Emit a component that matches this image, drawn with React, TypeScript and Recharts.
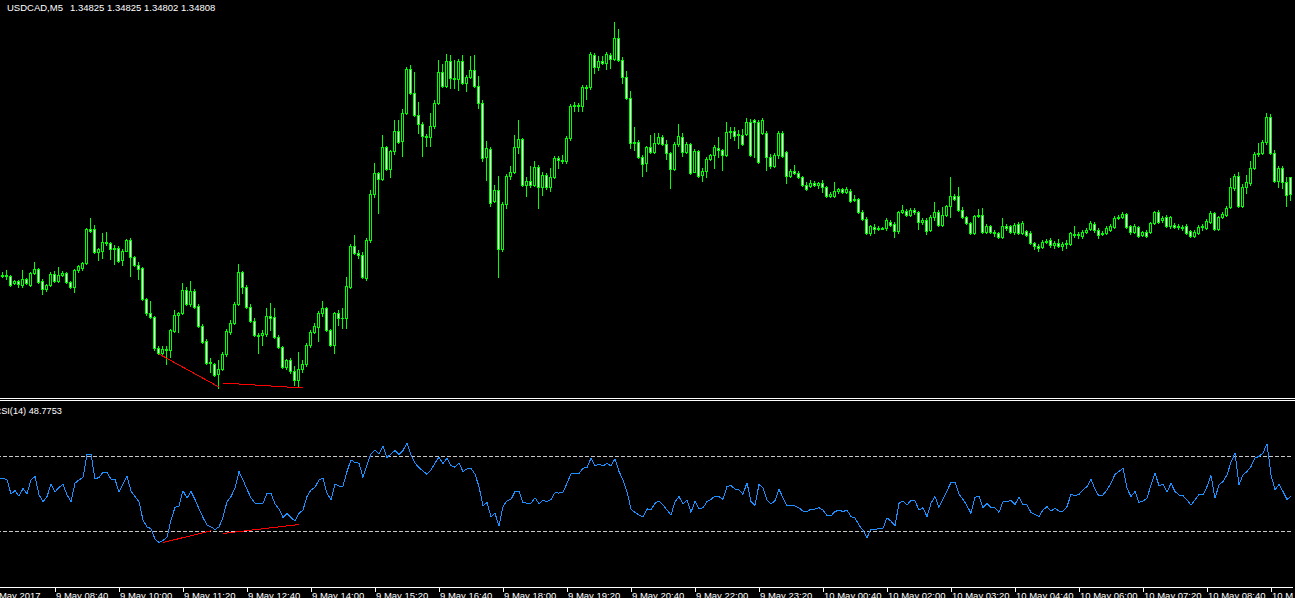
import React from 'react';
import { ComposedChart, Bar, Line, XAxis, YAxis, ReferenceLine } from 'recharts';

const SYMBOL = 'USDCAD,M5';
const FONT = "'Liberation Sans', Arial, sans-serif";

const opens = [1.34728,1.34726,1.34727,1.34726,1.34719,1.34721,1.34717,1.34723,1.34717,1.34729,
1.34733,1.34721,1.34713,1.34717,1.34728,1.34721,1.34727,1.34729,1.34720,1.34715,
1.34732,1.34734,1.34739,1.34773,1.34773,1.34750,1.34751,1.34760,1.34759,1.34753,
1.34754,1.34742,1.34751,1.34762,1.34745,1.34737,1.34734,1.34703,1.34689,1.34685,
1.34654,1.34649,1.34653,1.34652,1.34671,1.34687,1.34689,1.34712,1.34698,1.34711,
1.34696,1.34676,1.34661,1.34639,1.34638,1.34628,1.34633,1.34648,1.34670,1.34679,
1.34698,1.34730,1.34715,1.34695,1.34681,1.34667,1.34667,1.34668,1.34686,1.34685,
1.34665,1.34655,1.34635,1.34642,1.34631,1.34622,1.34633,1.34638,1.34657,1.34670,
1.34675,1.34689,1.34694,1.34672,1.34657,1.34689,1.34684,1.34684,1.34715,1.34756,
1.34749,1.34747,1.34724,1.34762,1.34808,1.34829,1.34823,1.34855,1.34833,1.34851,
1.34871,1.34861,1.34889,1.34933,1.34909,1.34887,1.34878,1.34866,1.34865,1.34876,
1.34899,1.34930,1.34916,1.34941,1.34924,1.34923,1.34941,1.34919,1.34925,1.34932,
1.34916,1.34899,1.34845,1.34853,1.34801,1.34812,1.34753,1.34798,1.34826,1.34830,
1.34855,1.34863,1.34817,1.34821,1.34817,1.34835,1.34815,1.34827,1.34815,1.34825,
1.34844,1.34842,1.34841,1.34864,1.34896,1.34897,1.34896,1.34915,1.34915,1.34947,
1.34935,1.34941,1.34939,1.34947,1.34943,1.34964,1.34942,1.34925,1.34904,1.34859,
1.34860,1.34845,1.34839,1.34855,1.34850,1.34859,1.34865,1.34858,1.34849,1.34833,
1.34858,1.34865,1.34850,1.34858,1.34830,1.34851,1.34827,1.34831,1.34843,1.34847,
1.34854,1.34852,1.34847,1.34870,1.34871,1.34867,1.34867,1.34868,1.34880,1.34882,
1.34880,1.34869,1.34869,1.34845,1.34836,1.34847,1.34869,1.34850,1.34826,1.34831,
1.34829,1.34825,1.34817,1.34816,1.34819,1.34817,1.34819,1.34815,1.34806,1.34806,
1.34811,1.34813,1.34810,1.34811,1.34802,1.34803,1.34790,1.34783,1.34769,1.34775,
1.34773,1.34774,1.34774,1.34780,1.34778,1.34771,1.34790,1.34791,1.34787,1.34792,
1.34790,1.34780,1.34782,1.34772,1.34785,1.34790,1.34777,1.34787,1.34796,1.34806,
1.34806,1.34792,1.34785,1.34779,1.34769,1.34786,1.34787,1.34770,1.34776,1.34770,
1.34769,1.34765,1.34776,1.34776,1.34770,1.34778,1.34769,1.34771,1.34769,1.34759,
1.34756,1.34755,1.34761,1.34762,1.34757,1.34759,1.34756,1.34758,1.34758,1.34768,
1.34767,1.34766,1.34770,1.34773,1.34778,1.34772,1.34768,1.34769,1.34772,1.34775,
1.34784,1.34785,1.34788,1.34776,1.34770,1.34775,1.34767,1.34770,1.34770,1.34779,
1.34790,1.34782,1.34785,1.34776,1.34777,1.34775,1.34775,1.34776,1.34771,1.34766,
1.34769,1.34775,1.34774,1.34780,1.34789,1.34773,1.34785,1.34787,1.34795,1.34814,
1.34826,1.34796,1.34815,1.34819,1.34834,1.34848,1.34849,1.34860,1.34885,1.34849,
1.34821,1.34834,1.34820,1.34825];

const highs = [1.34730,1.34730,1.34732,1.34727,1.34722,1.34722,1.34732,1.34724,1.34730,1.34740,
1.34734,1.34723,1.34718,1.34730,1.34731,1.34735,1.34731,1.34730,1.34721,1.34733,
1.34737,1.34740,1.34774,1.34784,1.34777,1.34754,1.34769,1.34770,1.34760,1.34757,
1.34756,1.34753,1.34763,1.34764,1.34746,1.34740,1.34735,1.34704,1.34701,1.34686,
1.34656,1.34656,1.34656,1.34673,1.34692,1.34690,1.34719,1.34715,1.34721,1.34713,
1.34698,1.34678,1.34663,1.34644,1.34639,1.34642,1.34650,1.34673,1.34682,1.34700,
1.34738,1.34731,1.34717,1.34698,1.34684,1.34669,1.34672,1.34694,1.34699,1.34694,
1.34667,1.34656,1.34643,1.34644,1.34636,1.34650,1.34642,1.34659,1.34672,1.34679,
1.34691,1.34701,1.34695,1.34673,1.34690,1.34692,1.34694,1.34725,1.34758,1.34767,
1.34752,1.34750,1.34764,1.34812,1.34839,1.34830,1.34867,1.34856,1.34852,1.34882,
1.34882,1.34893,1.34935,1.34937,1.34930,1.34900,1.34880,1.34868,1.34889,1.34902,
1.34942,1.34938,1.34948,1.34947,1.34942,1.34943,1.34947,1.34927,1.34946,1.34947,
1.34926,1.34902,1.34861,1.34855,1.34817,1.34826,1.34800,1.34828,1.34836,1.34867,
1.34882,1.34864,1.34825,1.34836,1.34841,1.34837,1.34830,1.34829,1.34834,1.34846,
1.34846,1.34847,1.34866,1.34898,1.34900,1.34899,1.34917,1.34917,1.34950,1.34949,
1.34946,1.34946,1.34950,1.34949,1.34980,1.34973,1.34945,1.34931,1.34911,1.34875,
1.34862,1.34847,1.34856,1.34867,1.34869,1.34869,1.34867,1.34862,1.34850,1.34860,
1.34878,1.34869,1.34860,1.34859,1.34853,1.34852,1.34834,1.34845,1.34848,1.34857,
1.34865,1.34853,1.34880,1.34875,1.34875,1.34872,1.34873,1.34884,1.34883,1.34883,
1.34882,1.34884,1.34871,1.34848,1.34849,1.34871,1.34871,1.34851,1.34833,1.34837,
1.34831,1.34826,1.34820,1.34822,1.34821,1.34820,1.34822,1.34816,1.34810,1.34820,
1.34814,1.34814,1.34815,1.34813,1.34807,1.34804,1.34792,1.34785,1.34777,1.34778,
1.34776,1.34775,1.34784,1.34782,1.34780,1.34791,1.34797,1.34793,1.34794,1.34794,
1.34791,1.34784,1.34784,1.34787,1.34800,1.34792,1.34795,1.34797,1.34825,1.34808,
1.34815,1.34795,1.34786,1.34780,1.34787,1.34793,1.34794,1.34778,1.34777,1.34772,
1.34770,1.34784,1.34778,1.34777,1.34779,1.34780,1.34781,1.34772,1.34771,1.34760,
1.34758,1.34762,1.34763,1.34764,1.34761,1.34763,1.34760,1.34762,1.34770,1.34776,
1.34770,1.34772,1.34774,1.34781,1.34780,1.34774,1.34771,1.34776,1.34778,1.34786,
1.34787,1.34790,1.34789,1.34777,1.34778,1.34776,1.34771,1.34772,1.34780,1.34791,
1.34792,1.34786,1.34787,1.34786,1.34779,1.34778,1.34777,1.34778,1.34772,1.34772,
1.34777,1.34778,1.34783,1.34791,1.34790,1.34786,1.34790,1.34796,1.34824,1.34828,
1.34830,1.34818,1.34827,1.34841,1.34850,1.34859,1.34862,1.34889,1.34888,1.34852,
1.34836,1.34836,1.34825,1.34825];

const lows = [1.34724,1.34725,1.34723,1.34716,1.34718,1.34715,1.34715,1.34718,1.34716,1.34728,
1.34719,1.34708,1.34711,1.34716,1.34720,1.34720,1.34726,1.34719,1.34714,1.34710,
1.34730,1.34732,1.34738,1.34770,1.34749,1.34742,1.34744,1.34757,1.34743,1.34738,
1.34740,1.34737,1.34751,1.34726,1.34736,1.34723,1.34702,1.34687,1.34684,1.34652,
1.34648,1.34647,1.34638,1.34645,1.34670,1.34670,1.34688,1.34697,1.34696,1.34694,
1.34675,1.34659,1.34638,1.34630,1.34626,1.34614,1.34632,1.34646,1.34668,1.34678,
1.34697,1.34709,1.34694,1.34680,1.34666,1.34649,1.34657,1.34666,1.34672,1.34664,
1.34654,1.34634,1.34633,1.34629,1.34617,1.34616,1.34630,1.34636,1.34655,1.34669,
1.34661,1.34686,1.34671,1.34656,1.34649,1.34677,1.34674,1.34674,1.34714,1.34748,
1.34744,1.34724,1.34722,1.34760,1.34805,1.34789,1.34822,1.34832,1.34825,1.34848,
1.34859,1.34846,1.34888,1.34908,1.34886,1.34869,1.34846,1.34856,1.34856,1.34874,
1.34898,1.34915,1.34915,1.34914,1.34914,1.34912,1.34918,1.34911,1.34924,1.34915,
1.34894,1.34841,1.34822,1.34796,1.34800,1.34725,1.34751,1.34794,1.34823,1.34829,
1.34849,1.34816,1.34806,1.34815,1.34816,1.34794,1.34807,1.34813,1.34811,1.34824,
1.34834,1.34839,1.34839,1.34862,1.34891,1.34891,1.34891,1.34903,1.34913,1.34929,
1.34932,1.34938,1.34933,1.34934,1.34942,1.34941,1.34919,1.34903,1.34854,1.34852,
1.34844,1.34826,1.34831,1.34849,1.34849,1.34858,1.34857,1.34843,1.34814,1.34832,
1.34856,1.34846,1.34849,1.34828,1.34830,1.34825,1.34821,1.34825,1.34842,1.34834,
1.34845,1.34832,1.34846,1.34864,1.34862,1.34854,1.34857,1.34867,1.34846,1.34845,
1.34839,1.34868,1.34832,1.34834,1.34835,1.34844,1.34845,1.34819,1.34825,1.34828,
1.34824,1.34816,1.34812,1.34815,1.34816,1.34814,1.34810,1.34805,1.34805,1.34805,
1.34809,1.34809,1.34809,1.34800,1.34801,1.34789,1.34782,1.34768,1.34767,1.34769,
1.34772,1.34773,1.34772,1.34776,1.34765,1.34769,1.34789,1.34786,1.34786,1.34788,
1.34773,1.34778,1.34768,1.34771,1.34782,1.34776,1.34776,1.34786,1.34785,1.34802,
1.34791,1.34784,1.34778,1.34768,1.34768,1.34785,1.34769,1.34769,1.34769,1.34766,
1.34764,1.34764,1.34772,1.34769,1.34768,1.34768,1.34768,1.34766,1.34758,1.34753,
1.34751,1.34754,1.34759,1.34755,1.34754,1.34755,1.34752,1.34754,1.34757,1.34765,
1.34764,1.34764,1.34769,1.34772,1.34770,1.34764,1.34767,1.34768,1.34771,1.34774,
1.34783,1.34784,1.34774,1.34768,1.34769,1.34765,1.34766,1.34765,1.34769,1.34778,
1.34779,1.34780,1.34775,1.34774,1.34774,1.34773,1.34772,1.34768,1.34765,1.34765,
1.34768,1.34772,1.34773,1.34779,1.34772,1.34772,1.34784,1.34786,1.34794,1.34812,
1.34795,1.34795,1.34809,1.34817,1.34833,1.34846,1.34848,1.34858,1.34848,1.34820,
1.34815,1.34814,1.34796,1.34802];

const closes = [1.34725,1.34727,1.34726,1.34717,1.34721,1.34718,1.34723,1.34719,1.34729,1.34733,
1.34720,1.34713,1.34717,1.34728,1.34721,1.34727,1.34729,1.34720,1.34715,1.34732,
1.34736,1.34739,1.34773,1.34771,1.34750,1.34753,1.34760,1.34759,1.34753,1.34754,
1.34741,1.34751,1.34762,1.34745,1.34737,1.34733,1.34703,1.34689,1.34685,1.34654,
1.34649,1.34653,1.34652,1.34672,1.34687,1.34689,1.34712,1.34698,1.34711,1.34695,
1.34676,1.34660,1.34639,1.34640,1.34627,1.34633,1.34648,1.34671,1.34679,1.34698,
1.34730,1.34715,1.34695,1.34681,1.34667,1.34666,1.34669,1.34686,1.34684,1.34665,
1.34655,1.34635,1.34642,1.34631,1.34622,1.34633,1.34638,1.34657,1.34670,1.34676,
1.34689,1.34694,1.34672,1.34657,1.34689,1.34684,1.34684,1.34716,1.34756,1.34749,
1.34747,1.34725,1.34762,1.34808,1.34829,1.34823,1.34855,1.34833,1.34851,1.34871,
1.34860,1.34889,1.34933,1.34909,1.34887,1.34878,1.34866,1.34865,1.34876,1.34899,
1.34930,1.34916,1.34941,1.34924,1.34923,1.34941,1.34919,1.34925,1.34932,1.34916,
1.34899,1.34844,1.34854,1.34799,1.34812,1.34753,1.34798,1.34826,1.34830,1.34855,
1.34863,1.34817,1.34821,1.34817,1.34835,1.34815,1.34827,1.34815,1.34825,1.34844,
1.34842,1.34841,1.34864,1.34896,1.34897,1.34896,1.34915,1.34914,1.34948,1.34935,
1.34941,1.34939,1.34948,1.34943,1.34964,1.34942,1.34925,1.34904,1.34859,1.34860,
1.34845,1.34838,1.34855,1.34850,1.34859,1.34865,1.34858,1.34849,1.34833,1.34858,
1.34866,1.34850,1.34858,1.34829,1.34851,1.34826,1.34831,1.34843,1.34847,1.34855,
1.34852,1.34847,1.34870,1.34871,1.34866,1.34868,1.34858,1.34880,1.34847,1.34880,
1.34840,1.34882,1.34845,1.34836,1.34847,1.34869,1.34846,1.34826,1.34831,1.34829,
1.34825,1.34817,1.34813,1.34819,1.34817,1.34819,1.34815,1.34806,1.34808,1.34811,
1.34813,1.34810,1.34813,1.34801,1.34803,1.34790,1.34783,1.34769,1.34776,1.34773,
1.34774,1.34773,1.34782,1.34777,1.34771,1.34790,1.34792,1.34787,1.34792,1.34790,
1.34780,1.34782,1.34771,1.34785,1.34790,1.34777,1.34787,1.34796,1.34806,1.34803,
1.34792,1.34785,1.34779,1.34769,1.34786,1.34787,1.34770,1.34776,1.34770,1.34769,
1.34765,1.34776,1.34774,1.34770,1.34777,1.34769,1.34779,1.34767,1.34759,1.34756,
1.34754,1.34760,1.34760,1.34757,1.34759,1.34756,1.34758,1.34759,1.34769,1.34767,
1.34768,1.34770,1.34772,1.34779,1.34772,1.34767,1.34769,1.34774,1.34776,1.34784,
1.34785,1.34788,1.34775,1.34770,1.34776,1.34766,1.34770,1.34766,1.34779,1.34790,
1.34780,1.34784,1.34776,1.34785,1.34775,1.34776,1.34774,1.34769,1.34766,1.34770,
1.34775,1.34776,1.34781,1.34789,1.34773,1.34785,1.34788,1.34794,1.34815,1.34826,
1.34796,1.34815,1.34820,1.34834,1.34848,1.34849,1.34860,1.34885,1.34849,1.34821,
1.34834,1.34820,1.34807,1.34808];

const rsi = [58.5,58.5,57.6,50.0,51.8,48.9,52.9,50.0,57.6,59.4,
49.5,45.9,48.6,55.2,51.1,53.6,55.2,49.5,45.9,55.8,
57.6,58.9,71.4,71.4,58.1,58.9,61.7,61.7,57.9,57.9,
51.1,55.2,59.7,51.6,48.6,45.9,36.0,32.2,31.4,25.7,
23.9,25.1,26.6,36.0,42.8,43.5,51.8,47.7,51.3,47.1,
42.1,37.4,33.2,32.3,30.9,32.3,37.4,45.9,48.6,53.1,
62.1,57.6,52.5,48.0,45.0,45.0,45.0,50.4,50.4,44.6,
41.9,37.4,39.6,37.4,35.4,39.6,41.4,48.6,52.2,53.6,
57.6,58.5,50.4,46.8,55.2,54.3,54.3,62.1,68.4,66.9,
66.6,58.9,65.7,71.6,73.8,71.6,75.6,69.6,71.6,73.4,
71.1,73.4,77.4,71.1,66.6,64.2,62.4,60.6,62.8,66.6,
69.8,66.4,69.3,65.3,64.4,66.6,62.1,63.5,63.9,60.6,
54.0,43.5,45.5,37.7,39.6,32.9,43.2,46.4,47.1,51.3,
51.6,45.3,45.1,45.1,48.0,44.8,46.6,45.9,47.1,50.7,
50.5,50.9,55.8,60.8,60.8,61.0,63.9,64.2,69.3,65.3,
66.0,65.1,66.4,65.1,68.9,62.1,57.6,51.3,41.9,40.1,
38.7,37.8,42.0,41.4,45.0,46.2,44.1,41.4,38.7,45.9,
48.6,44.6,46.8,40.1,46.2,41.9,42.6,45.9,47.1,48.9,
48.6,47.1,54.0,54.5,52.7,52.2,49.8,56.1,45.9,43.9,
55.2,53.1,46.8,44.6,46.4,52.5,48.0,43.7,44.1,43.5,
42.6,40.8,40.5,41.9,41.9,42.6,41.4,38.3,38.3,40.5,
41.4,40.5,41.4,37.8,37.2,33.3,30.5,26.6,31.1,30.9,
31.5,31.5,37.2,35.4,32.9,45.0,46.2,44.1,46.6,46.2,
41.4,42.6,37.8,45.0,48.6,42.8,47.3,51.6,56.3,56.3,
49.8,47.1,43.7,39.6,48.2,48.9,42.6,45.0,42.8,42.6,
40.1,45.9,45.9,46.6,44.4,48.2,44.4,44.1,40.1,39.0,
37.8,41.4,43.2,40.8,42.3,40.8,40.8,43.2,49.8,49.1,
49.8,52.2,54.0,57.9,52.5,48.9,49.5,52.2,55.8,60.6,
62.1,63.9,53.1,48.6,51.3,45.5,46.2,47.7,54.9,61.2,
54.5,55.2,50.9,55.8,51.3,49.5,49.1,46.8,44.1,46.8,
49.8,49.5,54.0,59.9,47.7,54.9,56.7,60.3,67.1,72.0,
54.9,60.3,62.1,64.8,69.3,70.2,72.0,77.0,60.3,52.2,
55.2,51.3,47.0,48.7753];

// divergence segments: [bar index, value]
const priceDivA = [[40, 1.34648], [55, 1.34615]];
const priceDivB = [[56, 1.34619], [76, 1.34614]];
const rsiDivA = [[41, 23.9], [53, 30.2]];
const rsiDivB = [[56, 28.8], [75, 33.6]];

const rsiLevels = [70, 30];

const tickBars = [0, 14, 30, 46, 62, 78, 94, 110, 126, 142, 158, 174, 190, 206, 222, 238, 254, 270, 286, 302, 318];
const tickLabels = ['9 May 2017', '9 May 08:40', '9 May 10:00', '9 May 11:20', '9 May 12:40', '9 May 14:00', '9 May 15:20',
  '9 May 16:40', '9 May 18:00', '9 May 19:20', '9 May 20:40', '9 May 22:00', '9 May 23:20', '10 May 00:40', '10 May 02:00',
  '10 May 03:20', '10 May 04:40', '10 May 06:00', '10 May 07:20', '10 May 08:40', '10 May 10:00'];

const PRICE_DOMAIN: [number, number] = [1.34606, 1.35002];

const bars = opens.map((o, i) => ({
  n: i, o, h: highs[i], l: lows[i], c: closes[i], rsi: rsi[i],
  dA: null as number | null, dB: null as number | null, rA: null as number | null, rB: null as number | null,
}));
priceDivA.forEach(([i, v]) => { bars[i].dA = v; });
priceDivB.forEach(([i, v]) => { bars[i].dB = v; });
rsiDivA.forEach(([i, v]) => { bars[i].rA = v; });
rsiDivB.forEach(([i, v]) => { bars[i].rB = v; });

const CHART_W = bars.length * 4;
const RSI_PLOT_H = 186;

const Candle = (props: any) => {
  const { x, y, width, height, payload } = props;
  if (!payload || x == null || y == null) return null;
  const { o, h, l, c } = payload;
  const span = h - l;
  const py = (v: number) => (span > 0 ? y + ((h - v) / span) * height : y);
  const cx = Math.floor(x + width / 2);
  const hiY = Math.round(py(h));
  const loY = Math.round(py(l));
  const top = Math.round(py(Math.max(o, c)));
  const bot = Math.round(py(Math.min(o, c)));
  const bull = c > o;
  return (
    <g shapeRendering="crispEdges">
      <rect x={cx} y={hiY} width={1} height={Math.max(1, loY - hiY + 1)} fill="#00FF00" />
      <rect x={cx - 1} y={top} width={3} height={Math.max(1, bot - top + 1)} fill="#00FF00" />
      {bot - top >= 2 && (
        <rect x={cx} y={top + 1} width={1} height={bot - top - 1} fill={bull ? '#000000' : '#FFFFFF'} />
      )}
    </g>
  );
};

const AxisTick = (props: any) => {
  const { x, payload } = props;
  const k = tickBars.indexOf(payload?.value);
  if (k < 0) return null;
  const px = Math.floor(x);
  const first = k === 0;
  return (
    <g>
      {!first && <rect x={px} y={RSI_PLOT_H + 1} width={1} height={4} fill="#FFFFFF" shapeRendering="crispEdges" />}
      <text x={first ? px - 8 : px + 1} y={RSI_PLOT_H + 12} fill="#FFFFFF" fontSize={9.5} fontFamily={FONT}>
        {tickLabels[k]}
      </text>
    </g>
  );
};

export default function App() {
  const last = bars.length - 1;
  const headerVals = [opens[last], highs[last], lows[last], closes[last]].map((v) => v.toFixed(5)).join(' ');
  return (
    <div style={{ position: 'fixed', left: 0, top: 0, width: 1295, height: 598, background: '#000', overflow: 'hidden' }}>
      <div style={{ position: 'absolute', left: -3, top: 0 }}>
        <ComposedChart width={CHART_W} height={396} data={bars} margin={{ top: 0, right: 0, bottom: 0, left: 0 }} barCategoryGap={0}>
          <XAxis dataKey="n" type="category" scale="band" hide padding={{ left: 0, right: 0 }} />
          <YAxis type="number" domain={PRICE_DOMAIN} allowDataOverflow hide />
          <Bar dataKey={(d: any) => [d.l, d.h]} barSize={4} isAnimationActive={false} shape={(p: any) => <Candle {...p} />} />
          <Line dataKey="dA" stroke="#FF0000" strokeWidth={1} dot={false} connectNulls isAnimationActive={false} shapeRendering="crispEdges" />
          <Line dataKey="dB" stroke="#FF0000" strokeWidth={1} dot={false} connectNulls isAnimationActive={false} shapeRendering="crispEdges" />
        </ComposedChart>
      </div>
      <div style={{ position: 'absolute', left: -3, top: 401 }}>
        <ComposedChart width={CHART_W} height={200} data={bars} margin={{ top: 0, right: 0, bottom: 0, left: 0 }}>
          <XAxis
            dataKey="n" type="category" scale="band" height={200 - RSI_PLOT_H} padding={{ left: 0, right: 0 }}
            ticks={tickBars} interval={0} tickLine={false}
            axisLine={{ stroke: '#FFFFFF', strokeWidth: 1, shapeRendering: 'crispEdges' } as any}
            tick={(p: any) => <AxisTick {...p} />}
          />
          <YAxis type="number" domain={[0, 100]} allowDataOverflow hide />
          {rsiLevels.map((lv) => (
            <ReferenceLine key={lv} y={lv} stroke="#C8C8C8" strokeDasharray="4 2" strokeWidth={1} shapeRendering="crispEdges" />
          ))}
          <Line dataKey="rsi" stroke="#1E90FF" strokeWidth={1} dot={false} isAnimationActive={false} shapeRendering="crispEdges" />
          <Line dataKey="rA" stroke="#FF0000" strokeWidth={1} dot={false} connectNulls isAnimationActive={false} shapeRendering="crispEdges" />
          <Line dataKey="rB" stroke="#FF0000" strokeWidth={1} dot={false} connectNulls isAnimationActive={false} shapeRendering="crispEdges" />
        </ComposedChart>
      </div>
      <svg width={1295} height={598} style={{ position: 'absolute', left: 0, top: 0, pointerEvents: 'none' }}>
        <text x={7} y={11} fill="#FFFFFF" fontSize={9.5} fontFamily={FONT}>{SYMBOL}</text>
        <text x={70} y={11} fill="#FFFFFF" fontSize={9.5} fontFamily={FONT}>{headerVals}</text>
        <rect x={0} y={398} width={1295} height={1} fill="#FFFFFF" />
        <rect x={0} y={400} width={1295} height={1} fill="#FFFFFF" />
        <text x={-5.5} y={414} fill="#FFFFFF" fontSize={9.2} fontFamily={FONT}>{`RSI(14) ${rsi[rsi.length - 1].toFixed(4)}`}</text>
      </svg>
    </div>
  );
}
